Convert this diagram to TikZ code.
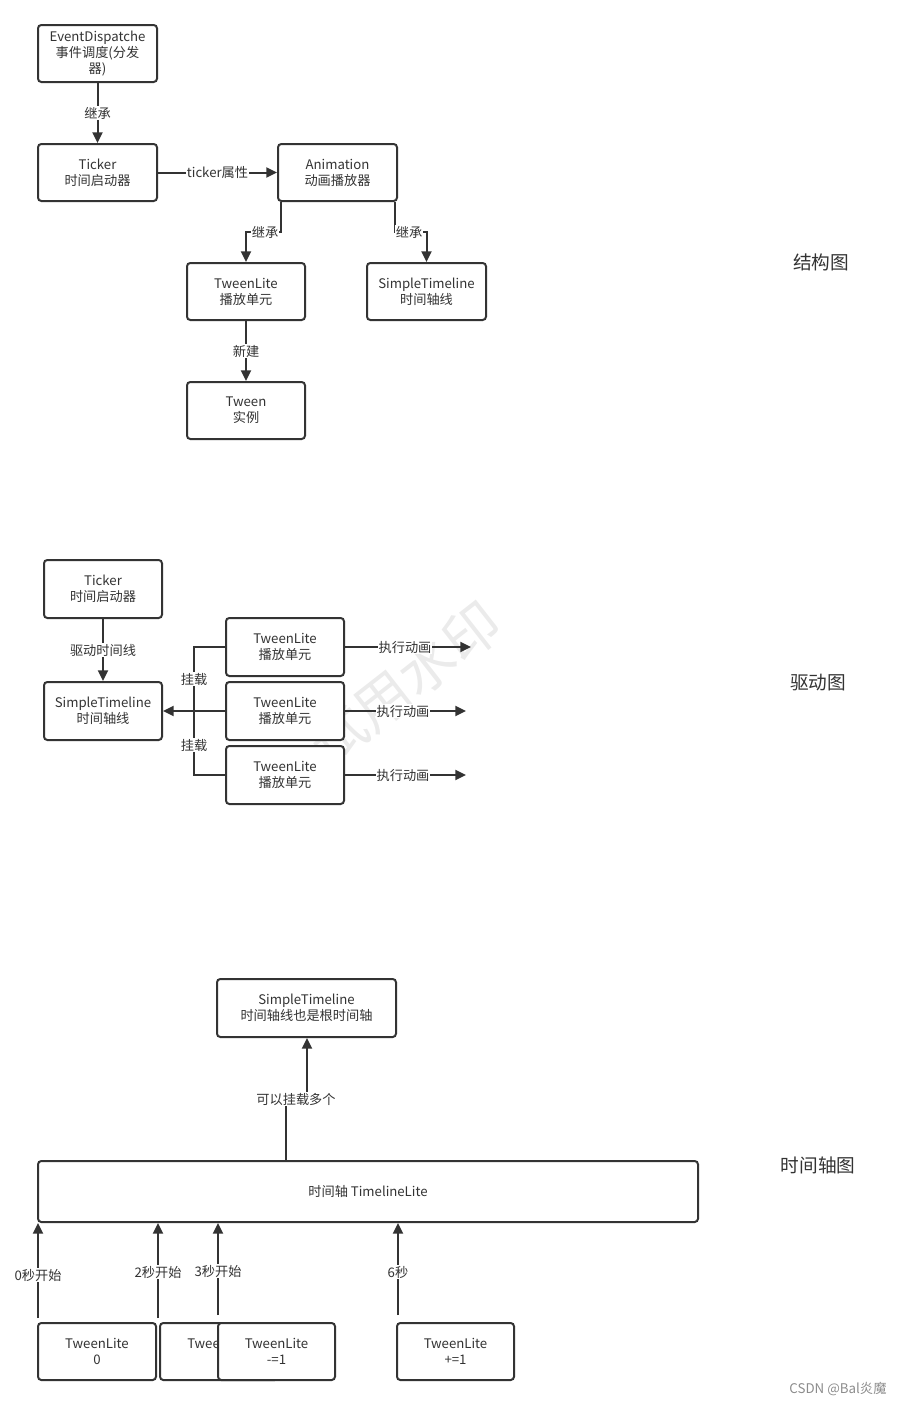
\documentclass[tikz,border=0pt]{standalone}
\usepackage{fontspec}
\setmainfont{Noto Sans CJK SC}
\usetikzlibrary{arrows.meta}
\definecolor{ink}{HTML}{333333}
\tikzset{
  box/.style={draw=ink, line width=1.5pt, rounded corners=2.5pt, fill=white, align=center,
    text=ink, font=\fontsize{9.9}{12}\selectfont, inner sep=0pt},
  conn/.style={draw=ink, line width=1.5pt, -{Triangle[length=8pt,width=7.5pt]}},
  plain/.style={draw=ink, line width=1.5pt},
  lbl/.style={fill=white, text=ink, font=\fontsize{9.9}{12}\selectfont, inner sep=0.5pt},
  sect/.style={text=ink, font=\fontsize{14}{16}\selectfont},
}
\newcommand{\bx}[6]{\node[box, minimum width=#4*0.75pt, minimum height=#5*0.75pt] (#1) at (#2,#3) {#6};}
\begin{document}
\begin{tikzpicture}[x=0.75pt,y=-0.75pt]
\useasboundingbox (0,0) rectangle (906,1406);
% watermark
\node[text=black!8, rotate=38, font=\fontsize{42}{42}\selectfont] (wm) at (405,683) {试用水印};

% ===== 结构图 =====
\bx{ed}{97.5}{53.5}{119}{57}{EventDispatche\\事件调度(分发\\器)}
\bx{tk}{97.5}{172.5}{119}{57}{Ticker\\时间启动器}
\bx{an}{337.5}{172.5}{119}{57}{Animation\\动画播放器}
\bx{tl}{246}{291.5}{118}{57}{TweenLite\\播放单元}
\bx{st}{426.5}{291.5}{119}{57}{SimpleTimeline\\时间轴线}
\bx{tw}{246}{410.5}{118}{57}{Tween\\实例}

\draw[conn] (ed) -- node[lbl]{继承} (tk);
\draw[conn] (tk) -- node[lbl, pos=0.5]{ticker属性} (an);
\draw[conn] (an.south west) ++(4,0) coordinate (a1) -- (a1 |- 0,232) -- (tl.north |- 0,232) -- (tl.north);
\node[lbl] (l1) at (265,232) {继承};
\draw[conn] (an.south east) ++(-3,0) coordinate (a2) -- (a2 |- 0,232) -- (st.north |- 0,232) -- (st.north);
\node[lbl] (l2) at (409,232) {继承};
\draw[conn] (tl) -- node[lbl]{新建} (tw);

\node[sect] (s1) at (821,262) {结构图};

% ===== 驱动图 =====
\bx{tk2}{103}{589}{118}{58}{Ticker\\时间启动器}
\bx{st2}{103}{711}{118}{58}{SimpleTimeline\\时间轴线}
\bx{ta}{285}{647}{118}{58}{TweenLite\\播放单元}
\bx{tb}{285}{711}{118}{58}{TweenLite\\播放单元}
\bx{tc}{285}{775}{118}{58}{TweenLite\\播放单元}

\draw[conn] (tk2) -- node[lbl]{驱动时间线} (st2);
\draw[plain] (ta.west) -- (194,647) -- (194,711);
\draw[plain] (tc.west) -- (194,775) -- (194,711);
\draw[conn] (tb.west) -- (st2.east);
\node[lbl] (m1) at (194,679) {挂载};
\node[lbl] (m2) at (194,745) {挂载};

\coordinate (ea) at (471,647);
\coordinate (eb) at (466,711);
\coordinate (ec) at (466,775);
\draw[conn] (ta.east) -- (ea);
\draw[conn] (tb.east) -- (eb);
\draw[conn] (tc.east) -- (ec);
\node[lbl] (x1) at (405,647) {执行动画};
\node[lbl] (x2) at (403,711) {执行动画};
\node[lbl] (x3) at (403,775) {执行动画};

\node[sect] (s2) at (818,683) {驱动图};

% ===== 时间轴图 =====
\bx{root}{306.5}{1008}{179}{58}{SimpleTimeline\\时间轴线也是根时间轴}
\bx{tlite}{368}{1191.5}{660}{61}{时间轴 TimelineLite}
\bx{b0}{97}{1351.5}{118}{57}{TweenLite\\0}
\bx{b2}{219}{1351.5}{118}{57}{TweenLite\\\phantom{0}}
\bx{b3}{276.5}{1351.5}{117}{57}{TweenLite\\-=1}
\bx{b6}{455.5}{1351.5}{117}{57}{TweenLite\\+=1}

\draw[conn] (286,1161) coordinate (r0) -- (286,1099) -- (307,1099) -- (root.south -| 307,0);
\node[lbl] (r1) at (296,1099) {可以挂载多个};

\coordinate (c0) at (38,1318);
\coordinate (c2) at (158,1318);
\coordinate (c3) at (218,1315);
\coordinate (c6) at (398,1315);
\draw[conn] (c0) -- (c0 |- tlite.south);
\draw[conn] (c2) -- (c2 |- tlite.south);
\draw[conn] (c3) -- (c3 |- tlite.south);
\draw[conn] (c6) -- (c6 |- tlite.south);
\node[lbl] (t0) at (38,1275) {0秒开始};
\node[lbl] (t2) at (158,1272) {2秒开始};
\node[lbl] (t3) at (218,1271) {3秒开始};
\node[lbl] (t6) at (398,1272) {6秒};

\node[sect] (s3) at (818,1165) {时间轴图};

\node[text=black!45, font=\fontsize{10}{12}\selectfont] (csdn) at (838,1389) {CSDN @Bal炎魔};
\end{tikzpicture}
\end{document}
